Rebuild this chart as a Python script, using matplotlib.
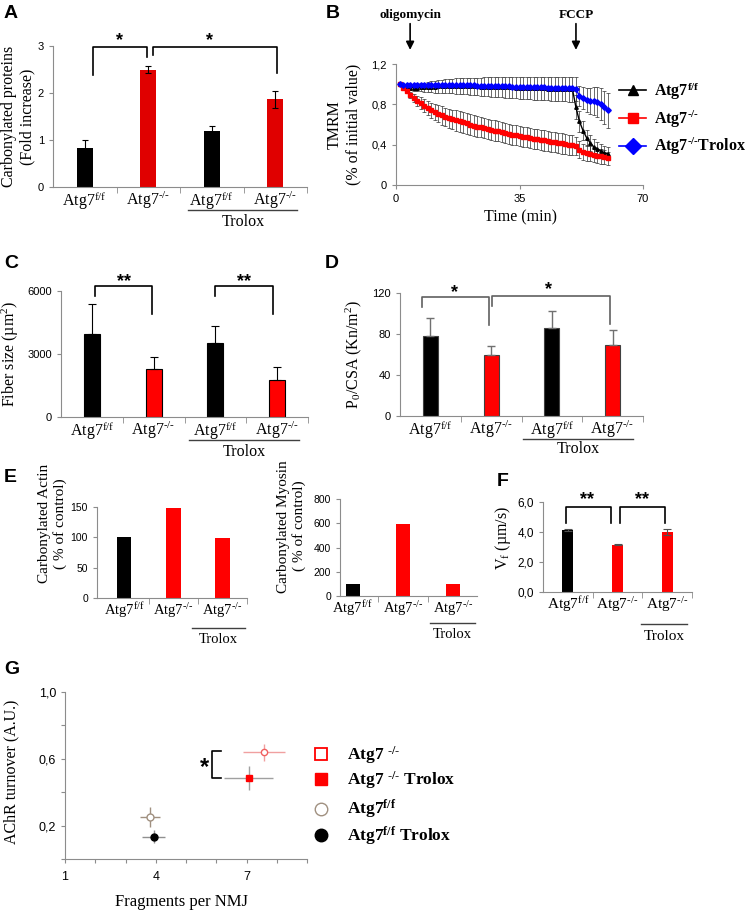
import numpy as np
import matplotlib.pyplot as plt
from matplotlib.lines import Line2D

plt.rcParams['font.family'] = 'Liberation Serif'
plt.rcParams['mathtext.default'] = 'regular'

# ---------------- datos ----------------
FF = 'Atg7$^{f/f}$'
KO = 'Atg7$^{\u2010/\u2010}$'

# A: proteinas carboniladas (fold increase)
a_labels = [FF, KO, FF, KO]
a_vals = [0.83, 2.50, 1.19, 1.87]
a_err = [0.17, 0.07, 0.10, 0.18]

# B: TMRM (% del valor inicial), un punto por minuto
b_time = [1, 2, 3, 4, 5, 6, 7, 8, 9, 10, 11, 12, 13, 14, 15, 16, 17, 18, 19, 20,
          21, 22, 23, 24, 25, 26, 27, 28, 29, 30, 31, 32, 33, 34, 35, 36, 37, 38, 39, 40,
          41, 42, 43, 44, 45, 46, 47, 48, 49, 50, 51, 52, 53, 54, 55, 56, 57, 58, 59, 60]
b_ff = [1.00, 0.975, 0.965, 0.965, 0.965, 0.966, 0.968, 0.970, 0.972, 0.974,
        0.976, 0.978, 0.980, 0.981, 0.982, 0.982, 0.982, 0.982, 0.981, 0.980,
        0.979, 0.978, 0.977, 0.976, 0.975, 0.974, 0.973, 0.972, 0.971, 0.970,
        0.969, 0.968, 0.967, 0.966, 0.965, 0.964, 0.963, 0.962, 0.961, 0.960,
        0.959, 0.958, 0.957, 0.956, 0.955, 0.954, 0.953, 0.952, 0.951, 0.950,
        0.77, 0.63, 0.54, 0.47, 0.42, 0.38, 0.36, 0.34, 0.32, 0.31]
b_ff_err = [0.0, 0.01, 0.02, 0.025, 0.03, 0.035, 0.04, 0.045, 0.05, 0.055,
            0.06, 0.062, 0.065, 0.068, 0.07, 0.072, 0.075, 0.077, 0.08, 0.082,
            0.084, 0.086, 0.088, 0.09, 0.092, 0.094, 0.096, 0.098, 0.10, 0.10,
            0.102, 0.104, 0.105, 0.106, 0.108, 0.11, 0.11, 0.112, 0.114, 0.115,
            0.116, 0.117, 0.118, 0.119, 0.12, 0.12, 0.121, 0.122, 0.123, 0.124,
            0.12, 0.10, 0.09, 0.08, 0.08, 0.075, 0.07, 0.07, 0.065, 0.065]
b_ko = [1.00, 0.965, 0.93, 0.895, 0.865, 0.835, 0.81, 0.785, 0.76, 0.74,
        0.72, 0.705, 0.69, 0.675, 0.66, 0.65, 0.64, 0.63, 0.62, 0.61,
        0.60, 0.59, 0.58, 0.572, 0.564, 0.556, 0.548, 0.54, 0.532, 0.524,
        0.516, 0.508, 0.50, 0.493, 0.486, 0.479, 0.472, 0.466, 0.46, 0.454,
        0.448, 0.442, 0.436, 0.43, 0.424, 0.418, 0.412, 0.406, 0.40, 0.395,
        0.39, 0.35, 0.33, 0.32, 0.31, 0.30, 0.29, 0.283, 0.275, 0.265]
b_ko_err = [0.0, 0.01, 0.02, 0.03, 0.04, 0.05, 0.06, 0.065, 0.07, 0.075,
            0.08, 0.085, 0.09, 0.09, 0.095, 0.095, 0.10, 0.10, 0.10, 0.10,
            0.10, 0.10, 0.10, 0.10, 0.10, 0.10, 0.10, 0.10, 0.10, 0.10,
            0.10, 0.10, 0.10, 0.10, 0.10, 0.10, 0.10, 0.10, 0.10, 0.10,
            0.10, 0.10, 0.10, 0.10, 0.10, 0.10, 0.10, 0.10, 0.10, 0.10,
            0.09, 0.085, 0.08, 0.08, 0.075, 0.075, 0.07, 0.07, 0.07, 0.065]
b_trx = [1.00, 0.995, 0.993, 0.993, 0.994, 0.995, 0.995, 0.995, 0.995, 0.995,
         0.995, 0.995, 0.994, 0.994, 0.993, 0.993, 0.992, 0.991, 0.990, 0.989,
         0.988, 0.987, 0.986, 0.985, 0.984, 0.983, 0.982, 0.981, 0.980, 0.979,
         0.978, 0.977, 0.976, 0.975, 0.974, 0.973, 0.972, 0.971, 0.970, 0.969,
         0.968, 0.967, 0.966, 0.965, 0.964, 0.963, 0.962, 0.961, 0.960, 0.958,
         0.955, 0.88, 0.86, 0.845, 0.835, 0.83, 0.82, 0.80, 0.77, 0.74]
b_trx_err = [0.0, 0.01, 0.01, 0.01, 0.01, 0.01, 0.01, 0.01, 0.01, 0.01,
             0.01, 0.01, 0.01, 0.01, 0.01, 0.01, 0.01, 0.01, 0.01, 0.01,
             0.01, 0.01, 0.01, 0.01, 0.01, 0.01, 0.01, 0.01, 0.01, 0.01,
             0.01, 0.01, 0.01, 0.01, 0.01, 0.01, 0.01, 0.01, 0.01, 0.01,
             0.01, 0.01, 0.01, 0.01, 0.01, 0.01, 0.01, 0.01, 0.01, 0.01,
             0.12, 0.10, 0.11, 0.12, 0.13, 0.14, 0.15, 0.16, 0.165, 0.17]

# C: tamano de fibra (um2)
c_vals = [3950, 2300, 3520, 1780]
c_err = [1450, 550, 830, 580]

# D: P0/CSA (Kn/m2)
d_vals = [78, 60, 86, 69]
d_err = [18, 8, 16, 15]

# E: actina y miosina carboniladas (% del control)
e_labels = [FF, KO, KO]
e_actin = [100, 148, 99]
e_myosin = [100, 595, 98]

# F: Vf (um/s)
f_vals = [4.13, 3.15, 4.00]
f_err = [0.05, 0.03, 0.20]

# G: recambio de AChR vs fragmentos por NMJ
g_x = [7.58, 7.07, 3.81, 3.93]
g_y = [0.638, 0.484, 0.252, 0.133]
g_xerr = [0.69, 0.80, 0.33, 0.38]
g_yerr = [0.05, 0.07, 0.06, 0.038]

# ---------------- figura ----------------
W, H = 746, 914
fig = plt.figure(figsize=(W / 100, H / 100), dpi=100)
GRIS = '#8c8c8c'
RED = '#ff0000'


def box(l, t, r, b):
    return [l / W, 1 - b / H, (r - l) / W, (b - t) / H]


def estilo(ax, ysize=8):
    for s in ['top', 'right']:
        ax.spines[s].set_visible(False)
    for s in ['left', 'bottom']:
        ax.spines[s].set_color(GRIS)
        ax.spines[s].set_linewidth(0.8)
    ax.tick_params(colors=GRIS, labelcolor='black', width=0.8, length=3)
    ax.tick_params(axis='y', labelfontfamily='Liberation Sans', labelsize=ysize)


def eje_barras(ax, labels, fs):
    n = len(labels)
    ax.set_xticks(range(n))
    ax.set_xticklabels(labels, fontsize=fs)
    ax.tick_params(axis='x', which='major', length=0, pad=2)
    ax.set_xticks([i + 0.5 for i in range(n)], minor=True)
    ax.tick_params(axis='x', which='minor', length=4, color=GRIS)


def corchete(ax, x1, x2, ytop, y1, y2, txt, tx, ty, color='black', fs=13):
    ax.plot([x1, x1, x2, x2], [y1, ytop, ytop, y2], color=color, lw=1.2,
            clip_on=False)
    ax.text(tx, ty, txt, ha='center', va='center', fontsize=fs, fontweight='bold',
            family='Liberation Sans', clip_on=False)


def trolox(ax, x1, x2, yl, yt, fs):
    tr = ax.get_xaxis_transform()
    ax.plot([x1, x2], [yl, yl], color='#404040', lw=1.0, transform=tr, clip_on=False)
    ax.text((x1 + x2) / 2, yt, 'Trolox', transform=tr, ha='center', va='center',
            fontsize=fs)


def letra(x, y, s):
    fig.text(x / W, 1 - y / H, s, fontsize=14, fontweight='bold',
             family='Liberation Sans', ha='left', va='center')


# ---- A ----
ax = fig.add_axes(box(53, 46, 307, 187))
estilo(ax)
ax.bar(range(4), a_vals, width=0.25, color=['black', '#e00000', 'black', '#e00000'])
ax.errorbar(range(4), a_vals, yerr=a_err, fmt='none', ecolor='black', elinewidth=0.8,
            capsize=2.5, capthick=0.8)
eje_barras(ax, a_labels, 11.5)
ax.set_yticks([0, 1, 2, 3])
ax.set_ylabel('Carbonylated proteins\n(Fold increase)', fontsize=11.5)
ax.yaxis.set_label_coords(-0.07, 0.5)
corchete(ax, 0.13, 0.98, 2.98, 2.38, 2.77, '*', 0.55, 3.12)
corchete(ax, 1.07, 3.02, 2.98, 2.81, 2.43, '*', 1.97, 3.12)
trolox(ax, 1.63, 3.35, -0.165, -0.25, 11.5)
ax.set_xlim(-0.5, 3.5)
ax.set_ylim(0, 3)
letra(4, 13, 'A')

# ---- B ----
ax = fig.add_axes(box(396, 64, 643, 185))
estilo(ax)
ax.tick_params(axis='x', labelfontfamily='Liberation Sans', labelsize=8)
ax.errorbar(b_time, b_ff, yerr=b_ff_err, fmt='none', ecolor='#303030',
            elinewidth=0.5, capsize=1.6, capthick=0.5)
ax.errorbar(b_time, b_ko, yerr=b_ko_err, fmt='none', ecolor='#303030',
            elinewidth=0.5, capsize=1.6, capthick=0.5)
ax.errorbar(b_time, b_trx, yerr=b_trx_err, fmt='none', ecolor='#303030',
            elinewidth=0.5, capsize=1.6, capthick=0.5)
ax.plot(b_time, b_ff, color='black', marker='^', ms=2.5, lw=1)
ax.plot(b_time, b_ko, color=RED, marker='s', ms=2.3, lw=1)
ax.plot(b_time, b_trx, color='blue', marker='D', ms=2.8, lw=1)
ax.set_xlim(0, 70)
ax.set_ylim(0, 1.2)
ax.set_xticks([0, 35, 70])
ax.set_yticks([0, 0.4, 0.8, 1.2])
ax.set_yticklabels(['0', '0,4', '0,8', '1,2'])
ax.set_xlabel('Time (min)', fontsize=11.5)
ax.xaxis.set_label_coords(0.506, -0.2)
ax.set_ylabel('TMRM\n(% of initial value)', fontsize=11.5)
ax.yaxis.set_label_coords(-0.14, 0.5)
for xt, txt in [(4, 'oligomycin'), (51, 'FCCP')]:
    ax.annotate('', xy=(xt, 1.34), xytext=(xt, 1.60), annotation_clip=False,
                arrowprops=dict(arrowstyle='-|>', color='black', lw=1.2,
                                mutation_scale=12, shrinkA=0, shrinkB=0))
    ax.text(xt, 1.69, txt, ha='center', va='center', fontsize=9.5,
            fontweight='bold', clip_on=False)
hb = [Line2D([], [], color='black', marker='^', ms=7, lw=1.2),
      Line2D([], [], color=RED, marker='s', ms=7, lw=1.2),
      Line2D([], [], color='blue', marker='D', ms=8, lw=1.2)]
fig.legend(hb, ['Atg7$^{f/f}$', KO, KO + 'Trolox'],
           loc='upper left', bbox_to_anchor=(619 / W, 1 - 80 / H), frameon=False,
           prop={'family': 'Liberation Serif', 'weight': 'bold', 'size': 11.5},
           handlelength=1.7, handletextpad=0.5, labelspacing=0.4, borderpad=0,
           borderaxespad=0)
letra(326, 13, 'B')

# ---- C ----
ax = fig.add_axes(box(61, 291, 308, 417))
estilo(ax)
ax.bar(range(4), c_vals, width=0.26, color=['black', RED, 'black', RED],
       edgecolor='black', linewidth=0.8)
ax.errorbar(range(4), c_vals, yerr=[[0] * 4, c_err], fmt='none', ecolor='black',
            elinewidth=0.8, capsize=3, capthick=0.8)
eje_barras(ax, a_labels, 11.5)
ax.set_yticks([0, 3000, 6000])
ax.set_ylabel('Fiber size (µm$^2$)', fontsize=11.5)
ax.yaxis.set_label_coords(-0.16, 0.5)
corchete(ax, 0.05, 0.98, 6238, 5762, 4905, '**', 0.52, 6450)
corchete(ax, 2.0, 2.94, 6238, 5762, 4905, '**', 2.47, 6450)
trolox(ax, 1.58, 3.35, -0.18, -0.28, 11.5)
ax.set_xlim(-0.5, 3.5)
ax.set_ylim(0, 6000)
letra(4, 263, 'C')

# ---- D ----
ax = fig.add_axes(box(400, 293, 643, 416))
estilo(ax)
ax.bar(range(4), d_vals, width=0.25, color=['black', RED, 'black', RED],
       edgecolor='#404040', linewidth=0.8)
ax.errorbar(range(4), d_vals, yerr=[[0] * 4, d_err], fmt='none', ecolor='#707070',
            elinewidth=1.0, capsize=3, capthick=1.0)
eje_barras(ax, a_labels, 11.5)
ax.set_yticks([0, 40, 80, 120])
ax.set_ylabel('P$_0$/CSA (Kn/m$^2$)', fontsize=11.5)
ax.yaxis.set_label_coords(-0.15, 0.5)
corchete(ax, -0.13, 0.96, 116, 106, 89, '*', 0.4, 120, color='#606060')
corchete(ax, 1.02, 2.95, 117, 107, 90, '*', 1.94, 123, color='#606060')
trolox(ax, 1.53, 3.33, -0.19, -0.27, 11.5)
ax.set_xlim(-0.5, 3.5)
ax.set_ylim(0, 120)
letra(325, 263, 'D')

# ---- E (actina) ----
ax = fig.add_axes(box(97, 507, 247, 598))
estilo(ax, ysize=7.5)
ax.bar(range(3), e_actin, width=0.3, color=['black', RED, RED])
eje_barras(ax, e_labels, 10.5)
ax.set_yticks([0, 50, 100, 150])
ax.set_ylabel('Carbonylated Actin\n( % of control)', fontsize=11)
ax.yaxis.set_label_coords(-0.2, 0.82)
trolox(ax, 1.38, 2.45, -0.33, -0.46, 10.5)
ax.set_xlim(-0.55, 2.5)
ax.set_ylim(0, 150)
letra(4, 477, 'E')

# ---- E (miosina) ----
ax = fig.add_axes(box(340, 499, 477, 596))
estilo(ax, ysize=7.5)
ax.bar(range(3), e_myosin, width=0.28, color=['black', RED, RED])
eje_barras(ax, e_labels, 10.5)
ax.set_yticks([0, 200, 400, 600, 800])
ax.set_ylabel('Carbonylated Myosin\n( % of control)', fontsize=11)
ax.yaxis.set_label_coords(-0.25, 0.72)
trolox(ax, 1.54, 2.44, -0.28, -0.4, 10.5)
ax.set_xlim(-0.26, 2.48)
ax.set_ylim(0, 800)

# ---- F ----
ax = fig.add_axes(box(543, 502, 692, 592))
estilo(ax, ysize=8.5)
ax.bar(range(3), f_vals, width=0.22, color=['black', RED, RED])
ax.errorbar(range(3), f_vals, yerr=f_err, fmt='none', ecolor='#505050',
            elinewidth=0.8, capsize=3, capthick=0.8)
eje_barras(ax, e_labels, 11)
ax.set_yticks([0, 2, 4, 6])
ax.set_yticklabels(['0,0', '2,0', '4,0', '6,0'])
ax.set_ylabel('V$_f$ (µm/s)', fontsize=11.5)
ax.yaxis.set_label_coords(-0.2, 0.6)
corchete(ax, -0.04, 0.87, 5.67, 4.6, 4.6, '**', 0.38, 6.15)
corchete(ax, 1.05, 1.96, 5.67, 4.6, 4.6, '**', 1.5, 6.15)
trolox(ax, 1.47, 2.4, -0.36, -0.49, 11)
ax.set_xlim(-0.5, 2.5)
ax.set_ylim(0, 6)
letra(497, 482, 'F')

# ---- G ----
ax = fig.add_axes(box(65, 692, 307, 859))
estilo(ax, ysize=9)
ax.tick_params(axis='x', labelfontfamily='Liberation Sans', labelsize=9)
g_style = [dict(marker='o', ms=4.5, mfc='white', mec='#f06060', ecolor='#f0a0a0'),
           dict(marker='s', ms=5, mfc=RED, mec=RED, ecolor='#a0a0a0'),
           dict(marker='o', ms=5, mfc='white', mec='#a09080', ecolor='#a09080'),
           dict(marker='o', ms=5, mfc='black', mec='black', ecolor='#909090')]
for i in range(4):
    st = g_style[i]
    ax.errorbar(g_x[i], g_y[i], xerr=g_xerr[i], yerr=g_yerr[i], fmt='none',
                ecolor=st['ecolor'], elinewidth=1.0)
    ax.plot(g_x[i], g_y[i], ls='none', marker=st['marker'], ms=st['ms'],
            mfc=st['mfc'], mec=st['mec'], mew=1.0)
ax.set_xlim(1, 9)
ax.set_ylim(0, 1.0)
ax.set_xticks([1, 2, 3, 4, 5, 6, 7, 8, 9])
ax.set_xticklabels(['1', '', '', '4', '', '', '7', '', ''])
ax.set_yticks([0, 0.2, 0.4, 0.6, 0.8, 1.0])
ax.set_yticklabels(['', '0,2', '', '0,6', '', '1,0'])
ax.tick_params(axis='x', pad=6)
ax.set_xlabel('Fragments per NMJ', fontsize=12)
ax.xaxis.set_label_coords(0.48, -0.21)
ax.set_ylabel('AChR turnover (A.U.)', fontsize=11.5)
ax.yaxis.set_label_coords(-0.19, 0.52)
ax.plot([6.16, 5.86, 5.86, 6.16], [0.647, 0.647, 0.485, 0.485], color='black',
        lw=1.2, clip_on=False)
ax.text(5.6, 0.545, '*', fontsize=17, fontweight='bold', family='Liberation Sans',
        ha='center', va='center')
leg_prop = {'family': 'Liberation Serif', 'weight': 'bold', 'size': 12.5}
h1 = [Line2D([], [], ls='none', marker='s', ms=9, mfc='white', mec=RED, mew=1.3),
      Line2D([], [], ls='none', marker='s', ms=9, mfc=RED, mec=RED)]
fig.legend(h1, ['Atg7 $^{\u2010/\u2010}$', 'Atg7 $^{\u2010/\u2010}$ Trolox'],
           loc='upper left', bbox_to_anchor=(312 / W, 1 - 744 / H), frameon=False,
           prop=leg_prop, handlelength=1.0, handletextpad=1.0, labelspacing=0.2,
           borderpad=0, borderaxespad=0)
h2 = [Line2D([], [], ls='none', marker='o', ms=9, mfc='white', mec='#a09080', mew=1.0),
      Line2D([], [], ls='none', marker='o', ms=9, mfc='black', mec='black')]
fig.legend(h2, ['Atg7$^{f/f}$', 'Atg7$^{f/f}$ Trolox'], loc='upper left',
           bbox_to_anchor=(312 / W, 1 - 798 / H), frameon=False, prop=leg_prop,
           handlelength=1.0, handletextpad=1.0, labelspacing=0.2, borderpad=0,
           borderaxespad=0)
letra(4, 669, 'G')

fig.savefig('out.png', dpi=100)
